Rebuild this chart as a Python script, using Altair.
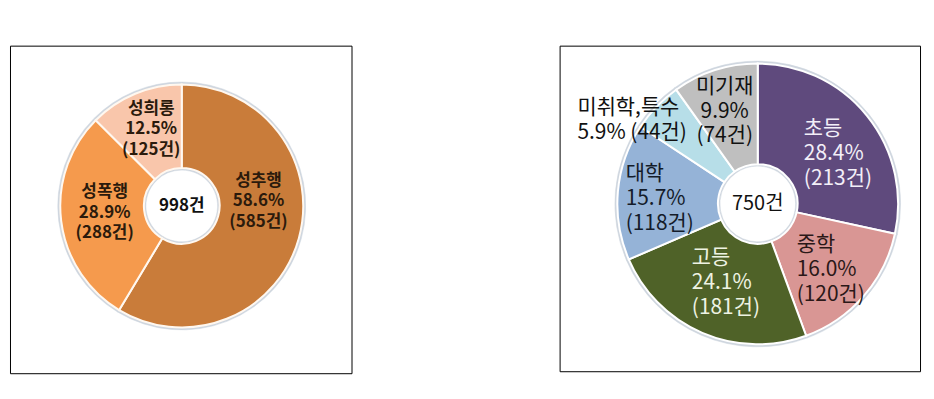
import altair as alt
import pandas as pd

# ---- data ----
left_cats = ["성추행", "성폭행", "성희롱"]
left_counts = [585, 288, 125]
left_pcts = [58.6, 28.9, 12.5]

right_cats = ["초등", "중학", "고등", "대학", "미취학,특수", "미기재"]
right_counts = [213, 120, 181, 118, 44, 74]
right_pcts = [28.4, 16.0, 24.1, 15.7, 5.9, 9.9]

FONT = "Noto Sans CJK KR"


def make_df(cats, counts, pcts):
    rows = []
    for i, (c, n, p) in enumerate(zip(cats, counts, pcts)):
        if c == "미취학,특수":
            lbl = f"{c}\n{p:.1f}% ({n}건)"
        else:
            lbl = f"{c}\n{p:.1f}%\n({n}건)"
        rows.append(dict(cat=c, count=n, idx=i, label=lbl))
    return pd.DataFrame(rows)


def donut(df, cats, colors, cx, cy, r_in, r_out, sep, w, h,
          label_style, label_specs, center_style):
    base = alt.Chart(df).encode(
        theta=alt.Theta("count:Q", stack=True),
        order=alt.Order("idx:Q"),
        x=alt.value(cx),
        y=alt.value(cy),
    )
    shadow = base.mark_arc(
        innerRadius=r_in - 2, outerRadius=r_out + 2.5,
        fill="#cfd6df", stroke="#cfd6df", strokeWidth=0.5,
    )
    slices = base.mark_arc(
        innerRadius=r_in, outerRadius=r_out, stroke=sep, strokeWidth=2,
    ).encode(
        color=alt.Color("cat:N", scale=alt.Scale(domain=cats, range=colors),
                        legend=None)
    )
    layers = [shadow, slices]
    for cat, spec in label_specs.items():
        st = dict(label_style)
        st.update(spec)
        lines = df.loc[df["cat"] == cat, "label"].iloc[0].count("\n") + 1
        # Vega puts the first line on the anchor: centre the whole block
        st["dy"] = st.get("dy", 0) - (lines - 1) / 2 * st["lineHeight"]
        layers.append(
            alt.Chart(df)
            .transform_stack(stack="count", groupby=[], as_=["s0", "s1"],
                             sort=[alt.SortField("idx", order="ascending")])
            .transform_calculate(mid="(datum.s0 + datum.s1) / 2")
            .transform_filter(alt.datum.cat == cat)
            .mark_text(lineBreak="\n", baseline="middle", font=FONT, **st)
            .encode(
                theta=alt.Theta("mid:Q", stack=None),
                x=alt.value(cx),
                y=alt.value(cy),
                text="label:N",
            )
        )
    center = (
        alt.Chart(df)
        .transform_aggregate(total="sum(count)")
        .transform_calculate(lbl="format(datum.total, 'd') + '건'")
        .mark_text(font=FONT, baseline="middle", align="center", **center_style)
        .encode(x=alt.value(cx), y=alt.value(cy), text="lbl:N")
    )
    layers.append(center)
    return alt.layer(*layers).properties(width=w, height=h)


left_df = make_df(left_cats, left_counts, left_pcts)
right_df = make_df(right_cats, right_counts, right_pcts)

left = donut(
    left_df, left_cats, ["#C97C3A", "#F59A4D", "#F9C6AB"],
    cx=172.5, cy=161, r_in=38, r_out=122, sep="#FFF8F0", w=343, h=329,
    label_style=dict(radius=80, align="center", fontSize=17,
                     fontWeight="bold", lineHeight=20.5, color="#2b1a0c"),
    label_specs={
        "성추행": dict(dx=0, dy=-26),
        "성폭행": dict(dx=2, dy=-3),
        "성희롱": dict(dx=0, dy=-3),
    },
    center_style=dict(fontSize=17, fontWeight="bold", color="#111111"),
)

right = donut(
    right_df, right_cats,
    ["#5F4A7D", "#D99694", "#4F6228", "#95B3D7", "#B7DEE8", "#BFBFBF"],
    cx=199, cy=159, r_in=40, r_out=141, sep="#FFFFFF", w=362, h=327,
    label_style=dict(radius=89, align="left", fontSize=21, lineHeight=25,
                     color="#111111"),
    label_specs={
        "초등": dict(dx=-23, dy=6, color="#f3eff8"),
        "중학": dict(dx=-28, dy=8, color="#2b1818"),
        "고등": dict(dx=-31, dy=-2, color="#eef3e3"),
        "대학": dict(dx=-44, dy=3, color="#141c2a"),
        "미취학,특수": dict(dx=-117, dy=-22),
        "미기재": dict(dx=-6, dy=-8, align="center"),
    },
    center_style=dict(fontSize=20, color="#111111"),
)

chart = (
    alt.hconcat(left, right, spacing=207)
    .resolve_scale(color="independent", theta="independent")
    .properties(padding={"left": 1, "top": 36, "right": 5, "bottom": 5})
    .configure_view(stroke="black", strokeWidth=1)
)

chart.save("out.html", embed_options={"renderer": "svg", "actions": False})
